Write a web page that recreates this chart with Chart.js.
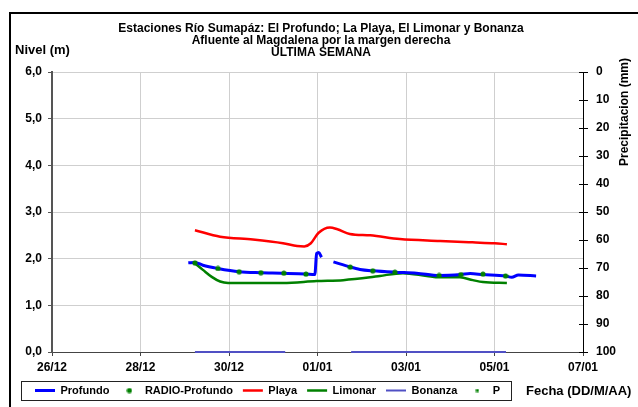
<!DOCTYPE html>
<html>
<head>
<meta charset="utf-8">
<script src="https://cdn.jsdelivr.net/npm/chart.js@4.4.0/dist/chart.umd.min.js"></script>
<style>
html, body { margin: 0; padding: 0; background: #fff; }
#wrap { width: 638px; height: 407px; }
</style>
</head>
<body>
<div id="wrap"><canvas id="nivelChart" width="638" height="407"></canvas></div>
<script>
// ==================== DATA ====================
const titleLines = [
    'Estaciones Río Sumapáz: El Profundo; La Playa, El Limonar y Bonanza',
    'Afluente al Magdalena por la margen derecha',
    'ULTIMA SEMANA'
];
// x values are days counted from 26/12
const xTickLabels = ['26/12', '28/12', '30/12', '01/01', '03/01', '05/01', '07/01'];

const profundoDays = [3.08, 3.23, 3.41, 3.75, 4.23, 4.72, 5.24, 5.74, 5.94, 5.98, 6.03, 6.09, 6.2,
    6.36, 6.74, 6.96, 7.25, 7.75, 8.24, 8.75, 9.24, 9.45, 9.74, 10.25, 10.39, 10.54, 10.94];
const profundoLevels = [1.91, 1.92, 1.86, 1.79, 1.72, 1.70, 1.69, 1.67, 1.66, 2.11, 2.13, 2.03, null,
    1.93, 1.82, 1.77, 1.74, 1.71, 1.69, 1.64, 1.66, 1.68, 1.66, 1.63, 1.60, 1.65, 1.63];

const radioDays = [3.23, 3.75, 4.23, 4.72, 5.24, 5.74, 6.74, 7.25, 7.75, 8.75, 9.24, 9.74, 10.25];
const radioLevels = [1.91, 1.79, 1.72, 1.70, 1.69, 1.67, 1.82, 1.74, 1.71, 1.64, 1.66, 1.67, 1.63];

const playaDays = [3.23, 3.8, 4.54, 5.22, 5.54, 5.7, 5.85, 6.02, 6.28, 6.45, 6.73, 7.19, 7.86,
    8.77, 9.5, 10.0, 10.28];
const playaLevels = [2.61, 2.47, 2.41, 2.33, 2.27, 2.26, 2.33, 2.55, 2.67, 2.63, 2.53, 2.50, 2.42,
    2.38, 2.35, 2.33, 2.31];

const limonarDays = [3.23, 3.41, 3.61, 3.8, 3.98, 4.54, 5.22, 5.98, 6.58, 7.19, 7.41, 7.93, 8.47,
    8.75, 9.22, 9.51, 9.74, 10.28];
const limonarLevels = [1.90, 1.76, 1.61, 1.51, 1.48, 1.48, 1.48, 1.52, 1.54, 1.60, 1.63, 1.69, 1.63,
    1.60, 1.60, 1.54, 1.50, 1.48];

const bonanzaDays = [3.23, 5.27, 6.0, 6.76, 10.26];
const bonanzaLevels = [0, 0, null, 0, 0];

const precipDays = [];
const precipValues = [];

// ==================== HELPERS ====================
const FONT = "'Liberation Sans', Arial, sans-serif";

function toPoints(xs, ys) {
    return xs.map((x, i) => ({ x: x, y: ys[i] }));
}

// small marker images, used for the dot series and their legend entries
function makeMarker(size, draw) {
    const c = document.createElement('canvas');
    c.width = size; c.height = size;
    draw(c.getContext('2d'), size);
    return c;
}
const dotMark = makeMarker(6, (g, s) => {
    g.fillStyle = '#008000';
    g.beginPath(); g.arc(s / 2, s / 2, 2.6, 0, Math.PI * 2); g.fill();
});
const squareMark = makeMarker(4, (g, s) => {
    g.fillStyle = '#008000';
    g.fillRect(0.5, 0.5, 3, 3);
});

// titles, frame, inner ticks of the right axis and the box round the legend
const extrasPlugin = {
    id: 'extras',
    afterDraw(chart) {
        const ctx = chart.ctx;
        ctx.save();
        ctx.strokeStyle = '#000';
        ctx.lineWidth = 2;
        ctx.beginPath();
        ctx.moveTo(10, 420); ctx.lineTo(10, 13); ctx.lineTo(660, 13);
        ctx.stroke();

        // right axis ticks also cross into the plot
        const y2 = chart.scales.y2;
        ctx.lineWidth = 1;
        ctx.beginPath();
        y2.ticks.forEach(t => {
            const py = Math.round(y2.getPixelForValue(t.value)) + 0.5;
            ctx.moveTo(y2.left - 4, py); ctx.lineTo(y2.left, py);
        });
        ctx.stroke();

        const boxes = chart.legend.legendHitBoxes;
        if (boxes && boxes.length) {
            const first = boxes[0], last = boxes[boxes.length - 1];
            ctx.strokeStyle = '#222';
            ctx.strokeRect(Math.round(first.left - 14) + 0.5, Math.round(first.top - 4) + 0.5,
                Math.round(last.left + last.width + 11 - (first.left - 14)),
                Math.round(first.height + 8));
        }

        ctx.fillStyle = '#000';
        ctx.font = 'bold 13px ' + FONT;
        ctx.textBaseline = 'middle';
        ctx.textAlign = 'left';
        ctx.fillText('Nivel (m)', 15, 50);
        ctx.fillText('Fecha (DD/M/AA)', 526, 391);

        ctx.font = 'bold 12px ' + FONT;
        ctx.translate(625, 112);
        ctx.rotate(-Math.PI / 2);
        ctx.textAlign = 'center';
        ctx.fillText('Precipitacion (mm)', 0, 0);
        ctx.restore();
    }
};

// ==================== CHART ====================
const ctx = document.getElementById('nivelChart');
new Chart(ctx, {
    type: 'line',
    data: {
        datasets: [
            {
                label: 'Profundo', data: toPoints(profundoDays, profundoLevels),
                borderColor: '#0000ff', borderWidth: 3, pointRadius: 0, pointStyle: 'line',
                pointBorderWidth: 3, spanGaps: false, order: 1
            },
            {
                label: 'RADIO-Profundo', data: toPoints(radioDays, radioLevels),
                showLine: false, pointStyle: dotMark, pointRadius: 3,
                borderColor: '#008000', backgroundColor: '#008000', order: 0
            },
            {
                label: 'Playa', data: toPoints(playaDays, playaLevels),
                borderColor: '#ff0000', borderWidth: 2.5, pointRadius: 0, pointStyle: 'line',
                pointBorderWidth: 2.5, order: 2
            },
            {
                label: 'Limonar', data: toPoints(limonarDays, limonarLevels),
                borderColor: '#008000', borderWidth: 2.5, pointRadius: 0, pointStyle: 'line',
                pointBorderWidth: 2.5, order: 3
            },
            {
                label: 'Bonanza', data: toPoints(bonanzaDays, bonanzaLevels),
                borderColor: '#5050c4', borderWidth: 2, pointRadius: 0, pointStyle: 'line',
                pointBorderWidth: 2, spanGaps: false, clip: false, order: 4
            },
            {
                label: 'P', data: toPoints(precipDays, precipValues), yAxisID: 'y2',
                showLine: false, pointStyle: squareMark, pointRadius: 2,
                borderColor: '#008000', backgroundColor: '#008000', order: 5
            }
        ]
    },
    options: {
        responsive: false,
        animation: false,
        devicePixelRatio: 1,
        cubicInterpolationMode: 'monotone',
        layout: { padding: { top: 14, left: 25, right: 21, bottom: 1 } },
        plugins: {
            tooltip: { enabled: false },
            title: {
                display: true,
                text: titleLines,
                color: '#000',
                font: { family: FONT, size: 12, weight: 'bold', lineHeight: 1.0 },
                padding: { top: 8.5, bottom: 13.5 }
            },
            legend: {
                position: 'bottom',
                align: 'start',
                labels: {
                    usePointStyle: true,
                    pointStyleWidth: 20,
                    boxHeight: 4,
                    padding: 10,
                    color: '#000',
                    font: { family: FONT, size: 11, weight: 'bold' },
                    sort: (a, b) => a.datasetIndex - b.datasetIndex
                }
            }
        },
        scales: {
            x: {
                type: 'linear', min: 0, max: 12,
                ticks: {
                    stepSize: 2, padding: 4, color: '#000',
                    font: { family: FONT, size: 12, weight: 'bold' },
                    callback: v => xTickLabels[Math.round(v / 2)]
                },
                grid: { color: '#cfcfcf', tickColor: '#444', tickLength: 4 },
                border: { color: '#444', width: 1 },
                afterFit: s => { s.height = s.chart.height - 1 - s.chart.legend.height - 352; }
            },
            y: {
                position: 'left', min: 0, max: 6,
                ticks: {
                    stepSize: 1, padding: 6, color: '#000',
                    font: { family: FONT, size: 12, weight: 'bold' },
                    callback: v => v.toFixed(1).replace('.', ',')
                },
                grid: { color: '#cfcfcf', tickColor: '#555', tickLength: 4 },
                border: { color: '#555', width: 2 },
                afterFit: s => { s.width = 52 - 25; }
            },
            y2: {
                position: 'right', min: 0, max: 100, reverse: true,
                ticks: {
                    stepSize: 10, padding: 8, color: '#000',
                    font: { family: FONT, size: 12, weight: 'bold' }
                },
                grid: { drawOnChartArea: false, color: '#000', tickLength: 5 },
                border: { color: '#000', width: 1 },
                afterFit: s => { s.width = 638 - 21 - 583; }
            }
        }
    },
    plugins: [extrasPlugin]
});
</script>
</body>
</html>
